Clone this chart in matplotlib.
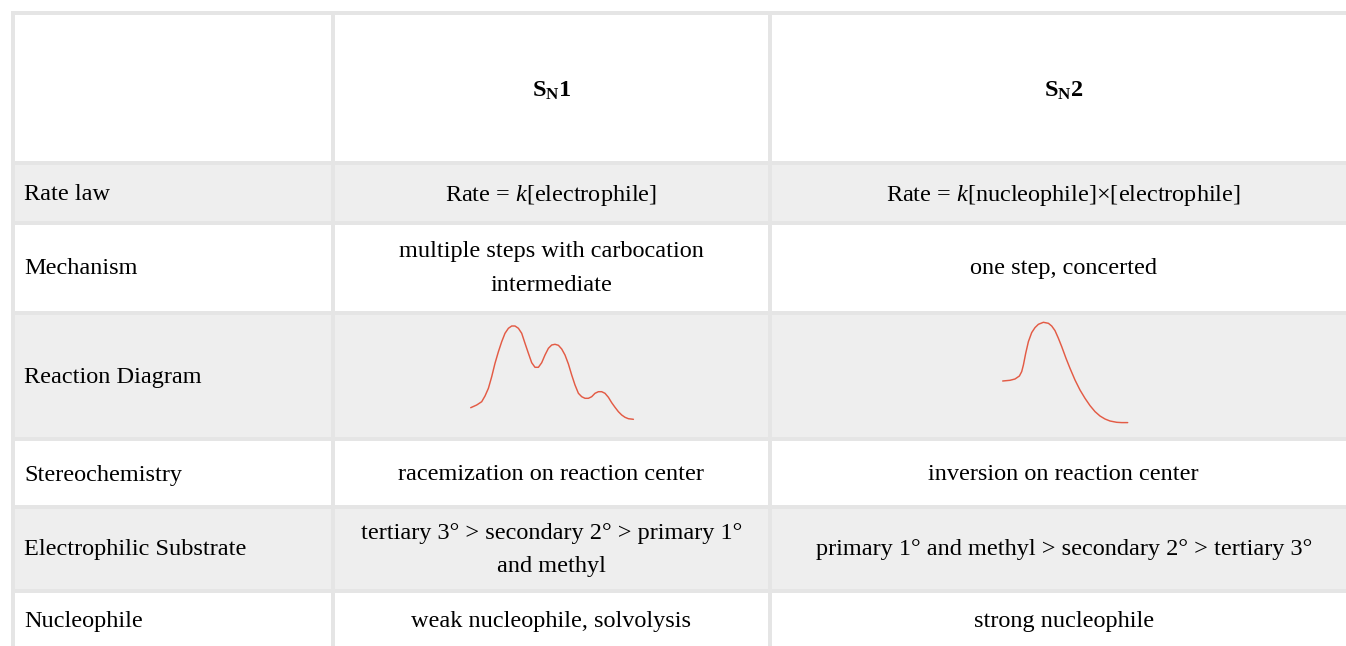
import numpy as np
import matplotlib
matplotlib.use("Agg")
from matplotlib import pyplot as plt
from matplotlib.patches import Rectangle

plt.rcParams['font.family'] = ['Liberation Serif', 'DejaVu Serif']
plt.rcParams['mathtext.fontset'] = 'custom'
plt.rcParams['mathtext.rm'] = 'Liberation Serif'
plt.rcParams['mathtext.it'] = 'Liberation Serif:italic'
plt.rcParams['mathtext.bf'] = 'Liberation Serif:bold'

# table content
headers = ['', r'$\mathbf{S_N1}$', r'$\mathbf{S_N2}$']
row_labels = ['Rate law', 'Mechanism', 'Reaction Diagram', 'Stereochemistry',
              'Electrophilic Substrate', 'Nucleophile']
sn1_text = ['Rate = $k$[electrophile]',
            'multiple steps with carbocation\nintermediate',
            None,
            'racemization on reaction center',
            'tertiary 3° > secondary 2° > primary 1°\nand methyl',
            'weak nucleophile, solvolysis']
sn2_text = ['Rate = $k$[nucleophile]×[electrophile]',
            'one step, concerted',
            None,
            'inversion on reaction center',
            'primary 1° and methyl > secondary 2° > tertiary 3°',
            'strong nucleophile']

# reaction diagrams (reaction coordinate, energy)
sn1_rc = [0, 6, 11, 14.3, 17.7, 21, 24.3, 27.7, 31, 34.3, 37.7, 41, 44.3, 47.7, 51,
          54.3, 57.7, 61, 64.3, 67.7, 71, 74.3, 77.7, 81, 84.3, 87.7, 91, 94.3, 97.7,
          101, 104.3, 107.7, 111, 114.3, 117.7, 121, 124.3, 127.7, 131, 134.3, 137.7,
          141, 144.3, 147.7, 151, 154.3, 157.7, 162.7]
sn1_energy = [12.3, 15, 18.3, 24, 31.7, 43.3, 56.7, 68.3, 78.3, 86.7, 91.7, 94, 94,
              91.7, 86.7, 76.7, 66.7, 57.3, 52.7, 52.7, 57.3, 65, 71.7, 75, 75.7, 74.7,
              71, 65, 56, 45, 35, 26.7, 23.3, 21.7, 21.7, 23.3, 26.7, 28.3, 28.3, 26.7,
              22.7, 17.3, 12.7, 8.3, 5, 2.7, 1.3, 0.7]
sn2_rc = [0, 7.3, 12.3, 16.7, 19, 20.7, 23, 25.7, 29, 32.3, 35.7, 40.7, 45.7, 49, 52.3,
          55.7, 59, 63.3, 67.3, 72.3, 77.3, 82.3, 87.3, 92.3, 97.3, 102.3, 107.3, 114,
          119, 125]
sn2_energy = [42.3, 43, 44.3, 47.3, 51.7, 58.3, 70, 81.7, 90.7, 95.7, 99, 101, 100,
              97.3, 92.7, 85, 76.7, 65, 55, 43.3, 33.3, 25, 17.7, 11.7, 7.3, 4.3, 2.3,
              1, 0.7, 0.7]

W, H = 1346, 646
fig = plt.figure(figsize=(W / 100, H / 100), dpi=100)
ax = fig.add_axes([0, 0, 1, 1])
ax.set_xlim(0, W)
ax.set_ylim(H, 0)
ax.axis('off')

border = '#e5e5e5'
shade = '#eeeeee'
col_edges = [13, 333, 769.5, 1358]
row_edges = [13, 163, 223, 313, 439, 507, 591, 720]
gap = 2

ax.add_patch(Rectangle((11, 11), 1400, 720, color=border, lw=0))
for r in range(len(row_edges) - 1):
    fc = shade if r in (1, 3, 5) else 'white'
    for c in range(3):
        x0 = col_edges[c] + gap
        y0 = row_edges[r] + gap
        ax.add_patch(Rectangle((x0, y0), col_edges[c + 1] - col_edges[c] - 2 * gap,
                               row_edges[r + 1] - row_edges[r] - 2 * gap, color=fc, lw=0))

fs = 17.5
col_mid = [(col_edges[1] + col_edges[2]) / 2, (col_edges[2] + col_edges[3]) / 2]
ax.text(col_mid[0], 88, headers[1], ha='center', va='center_baseline', fontsize=fs)
ax.text(col_mid[1], 88, headers[2], ha='center', va='center_baseline', fontsize=fs)

row_mid = [191.5, 266, 375, 472.5, 547.5, 618.5]
for i, lab in enumerate(row_labels):
    ax.text(24, row_mid[i], lab, ha='left', va='center_baseline', fontsize=fs)
    for j, txt in enumerate([sn1_text[i], sn2_text[i]]):
        if not txt:
            continue
        if '\n' in txt:
            ax.text(col_mid[j], row_mid[i] + 2.5, txt, ha='center', va='center',
                    fontsize=fs, linespacing=1.8, multialignment='center')
        else:
            ax.text(col_mid[j], row_mid[i], txt, ha='center', va='center_baseline',
                    fontsize=fs)


def diagram(x0, y_bottom, w, h, rc, energy):
    a = fig.add_axes([x0 / W, 1 - y_bottom / H, w / W, h / H])
    a.set_xlim(0, w)
    a.set_ylim(0, h)
    a.axis('off')
    a.plot(rc, energy, color='#e35b45', lw=1.05, clip_on=False,
           solid_capstyle='round', solid_joinstyle='round')


diagram(470.7, 420, 163, 95, sn1_rc, sn1_energy)
diagram(1002.7, 423.3, 126, 102, sn2_rc, sn2_energy)

fig.savefig('out.png', dpi=100)
